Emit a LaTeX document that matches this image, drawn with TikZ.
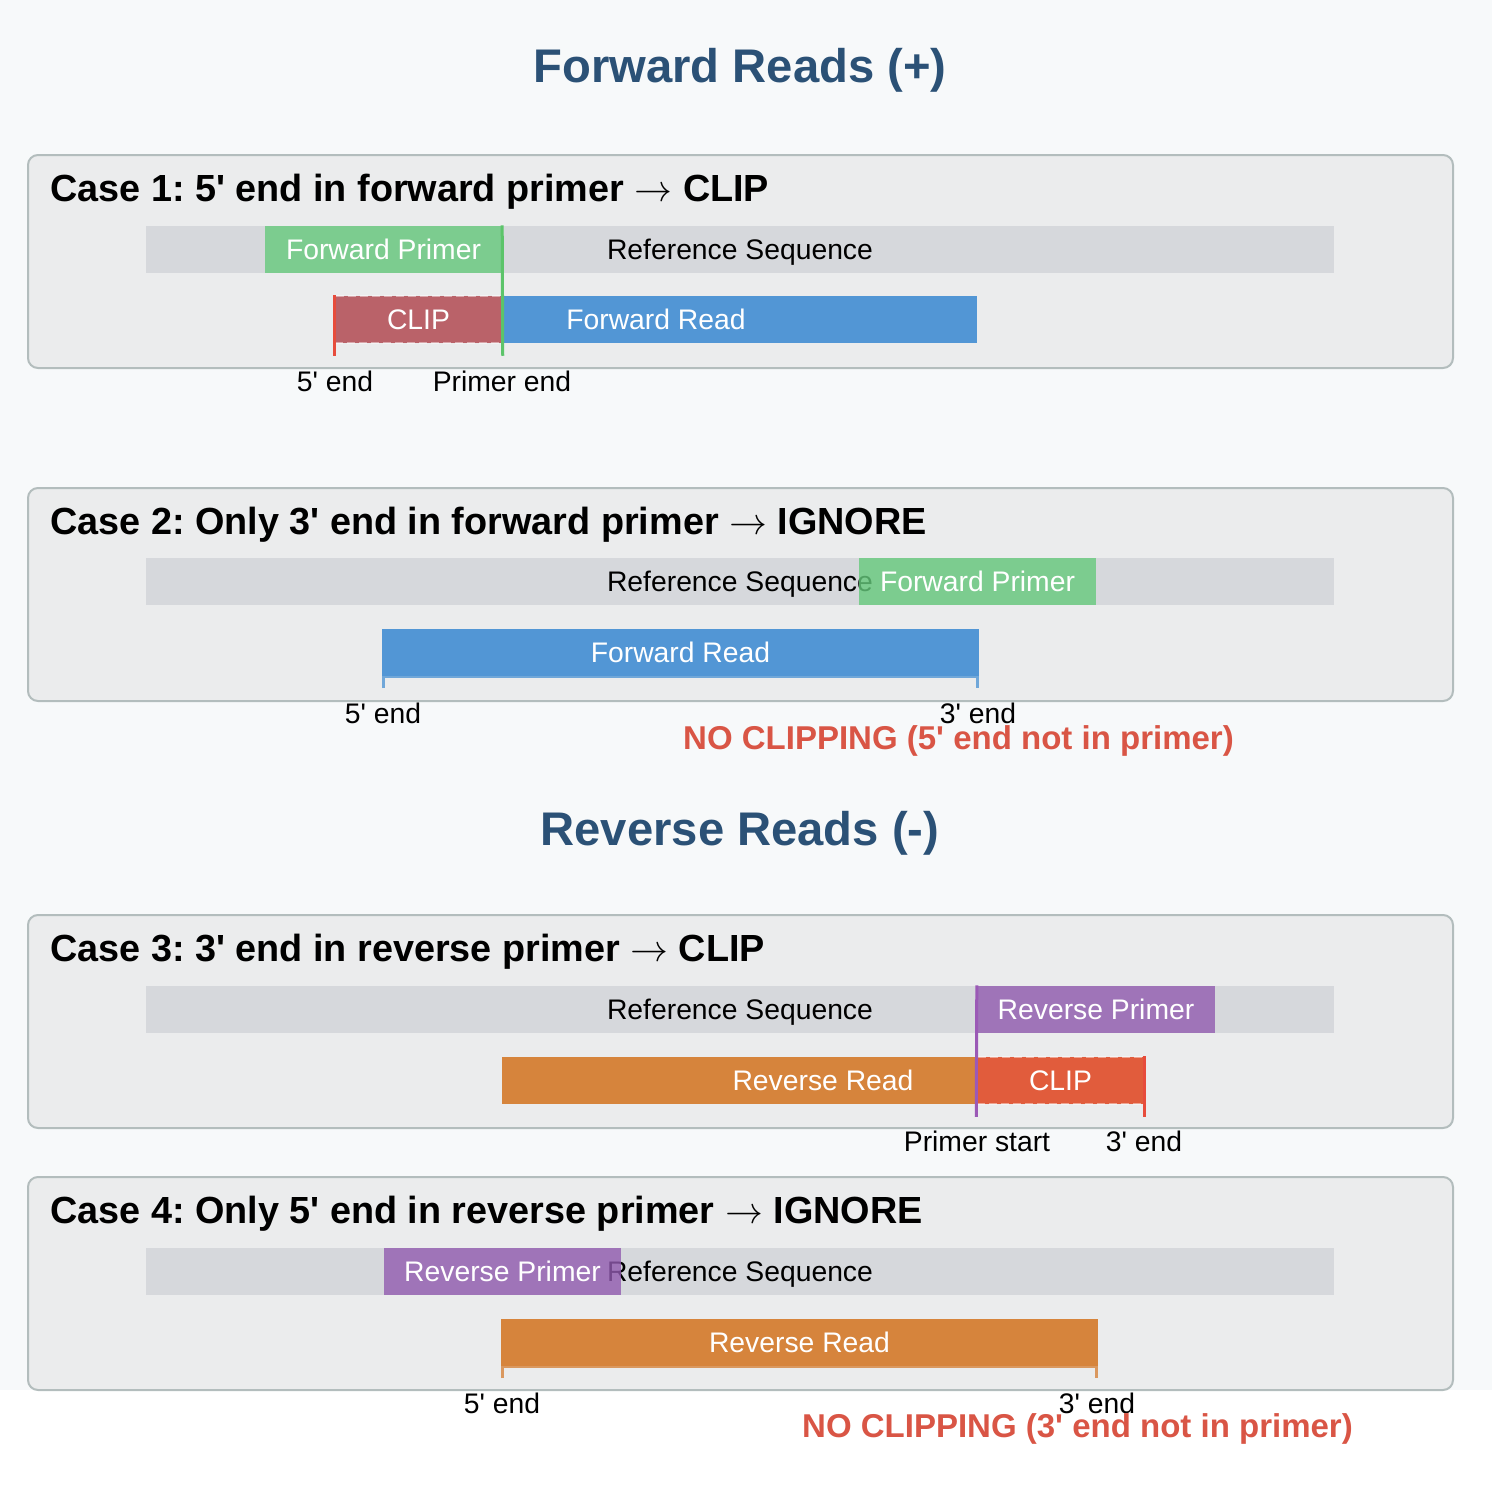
\documentclass[tikz,border=0pt]{standalone}
\usepackage{fontspec}
\usepackage{unicode-math}
\setmainfont{Liberation Sans}[Ligatures=TeXOff]

\definecolor{pagebg}{HTML}{F7F9FA}
\definecolor{boxfill}{HTML}{EBECED}
\definecolor{boxline}{HTML}{B3BDBD}
\definecolor{refgray}{HTML}{D6D8DC}
\definecolor{headblue}{HTML}{2B5176}
\definecolor{fwdgreen}{HTML}{66CA7C}
\definecolor{fwdline}{HTML}{5CC46A}
\definecolor{revpurple}{HTML}{925BB0}
\definecolor{revline}{HTML}{9B59B6}
\definecolor{readblue}{HTML}{5296D5}
\definecolor{readorange}{HTML}{D6843C}
\definecolor{clipred}{HTML}{E74C3C}
\definecolor{warnred}{HTML}{D95545}

\newcommand{\goesto}{$\rightarrow$}

\begin{document}
\frenchspacing
\begin{tikzpicture}[
    x=1pt, y=-1pt,
    casebox/.style={
        rectangle,
        draw=boxline,
        fill=boxfill,
        line width=2pt,
        rounded corners=10pt,
        minimum width=1425pt,
        minimum height=213pt,
        anchor=north west,
        },
    bar/.style={
        rectangle,
        inner sep=0pt,
        minimum height=47pt,
        text height=20pt,
        text depth=0pt,
        font={\fontsize{28.3}{34}\selectfont},
        },
    refseq/.style={
        bar,
        fill=refgray,
        minimum width=1188pt,
        },
    primer/.style={
        bar,
        fill opacity=0.8,
        text opacity=1,
        text=white,
        minimum width=237pt,
        },
    readbar/.style={
        bar,
        text=white,
        },
    clipbox/.style={
        bar,
        fill=clipred,
        fill opacity=0.7,
        text opacity=1,
        text=white,
        draw=white,
        draw opacity=0.45,
        dash pattern=on 8pt off 4pt,
        line width=1.5pt,
        minimum width=167pt,
        },
    heading/.style={
        anchor=base,
        text=headblue,
        font={\fontsize{47.2}{56}\selectfont\bfseries},
        },
    casetitle/.style={
        anchor=base west,
        inner sep=0pt,
        font={\fontsize{37.8}{45}\selectfont\bfseries},
        },
    endlabel/.style={
        anchor=base,
        font={\fontsize{28.3}{34}\selectfont},
        },
    warning/.style={
        anchor=base,
        text=warnred,
        font={\fontsize{33}{40}\selectfont\bfseries},
        },
    marker/.style={
        line width=3pt,
        },
    bracket/.style={
        line width=3pt,
        draw opacity=0.8,
        },
    ]

    \useasboundingbox (0,0) rectangle (1492,1488);
    \fill[pagebg] (0,0) rectangle (1492,1390);

    \node[heading] (fwdhead) at (740,83) {Forward Reads (+)};

    % case 1
    \node[casebox] (box1) at (27,154) {};
    \node[casetitle] (title1) at (50,201.5) {Case 1: 5' end in forward primer \goesto{} CLIP};
    \node[refseq] (ref1) at (740,249) {Reference Sequence};
    \node[primer, fill=fwdgreen] (fp1) at (383.5,249) {Forward Primer};
    \node[readbar, fill=readblue, minimum width=642pt] (rd1) at (656,319.5) {Forward Read};
    \node[clipbox] (clip1) at (418.5,319.5) {CLIP};
    \draw[marker, fwdline] (fp1.north east) -- ([yshift=-12pt]clip1.south east);
    \draw[marker, clipred] (clip1.north west) -- ([yshift=-12pt]clip1.south west);
    \node[endlabel] (five1) at (335,391) {5' end};
    \node[endlabel] (pend1) at (502,391) {Primer end};

    % case 2
    \node[casebox] (box2) at (27,487) {};
    \node[casetitle] (title2) at (50,534.5) {Case 2: Only 3' end in forward primer \goesto{} IGNORE};
    \node[refseq] (ref2) at (740,581.5) {Reference Sequence};
    \node[primer, fill=fwdgreen] (fp2) at (977.5,581.5) {Forward Primer};
    \node[readbar, fill=readblue, minimum width=597pt] (rd2) at (680.5,652.5) {Forward Read};
    \draw[bracket, readblue] ([xshift=1.5pt,yshift=-12pt]rd2.south west) -- ([xshift=1.5pt]rd2.south west)
        -- ([xshift=-1.5pt]rd2.south east) -- ([xshift=-1.5pt,yshift=-12pt]rd2.south east);
    \node[endlabel] (five2) at (383,723) {5' end};
    \node[endlabel] (three2) at (978,723) {3' end};
    \node[warning] (warn2) at (958.5,749) {NO CLIPPING (5' end not in primer)};

    \node[heading] (revhead) at (740,845) {Reverse Reads (-)};

    % case 3
    \node[casebox] (box3) at (27,914) {};
    \node[casetitle] (title3) at (50,961.5) {Case 3: 3' end in reverse primer \goesto{} CLIP};
    \node[refseq] (ref3) at (740,1009) {Reference Sequence};
    \node[primer, fill=revpurple, minimum width=238pt] (rp3) at (1096,1009) {Reverse Primer};
    \node[readbar, fill=readorange, minimum width=642pt] (rd3) at (823,1080.5) {Reverse Read};
    \node[clipbox] (clip3) at (1060.5,1080.5) {CLIP};
    \draw[marker, revline] (rp3.north west) -- ([yshift=-12pt]clip3.south west);
    \draw[marker, clipred] (clip3.north east) -- ([yshift=-12pt]clip3.south east);
    \node[endlabel] (pstart3) at (977,1151) {Primer start};
    \node[endlabel] (three3) at (1144,1151) {3' end};

    % case 4
    \node[casebox] (box4) at (27,1176) {};
    \node[casetitle] (title4) at (50,1223.5) {Case 4: Only 5' end in reverse primer \goesto{} IGNORE};
    \node[refseq] (ref4) at (740,1271) {Reference Sequence};
    \node[primer, fill=revpurple] (rp4) at (502.5,1271) {Reverse Primer};
    \node[readbar, fill=readorange, minimum width=597pt] (rd4) at (799.5,1342.5) {Reverse Read};
    \draw[bracket, readorange] ([xshift=1.5pt,yshift=-12pt]rd4.south west) -- ([xshift=1.5pt]rd4.south west)
        -- ([xshift=-1.5pt]rd4.south east) -- ([xshift=-1.5pt,yshift=-12pt]rd4.south east);
    \node[endlabel] (five4) at (502,1413) {5' end};
    \node[endlabel] (three4) at (1097,1413) {3' end};
    \node[warning] (warn4) at (1077.5,1437) {NO CLIPPING (3' end not in primer)};

\end{tikzpicture}
\end{document}
